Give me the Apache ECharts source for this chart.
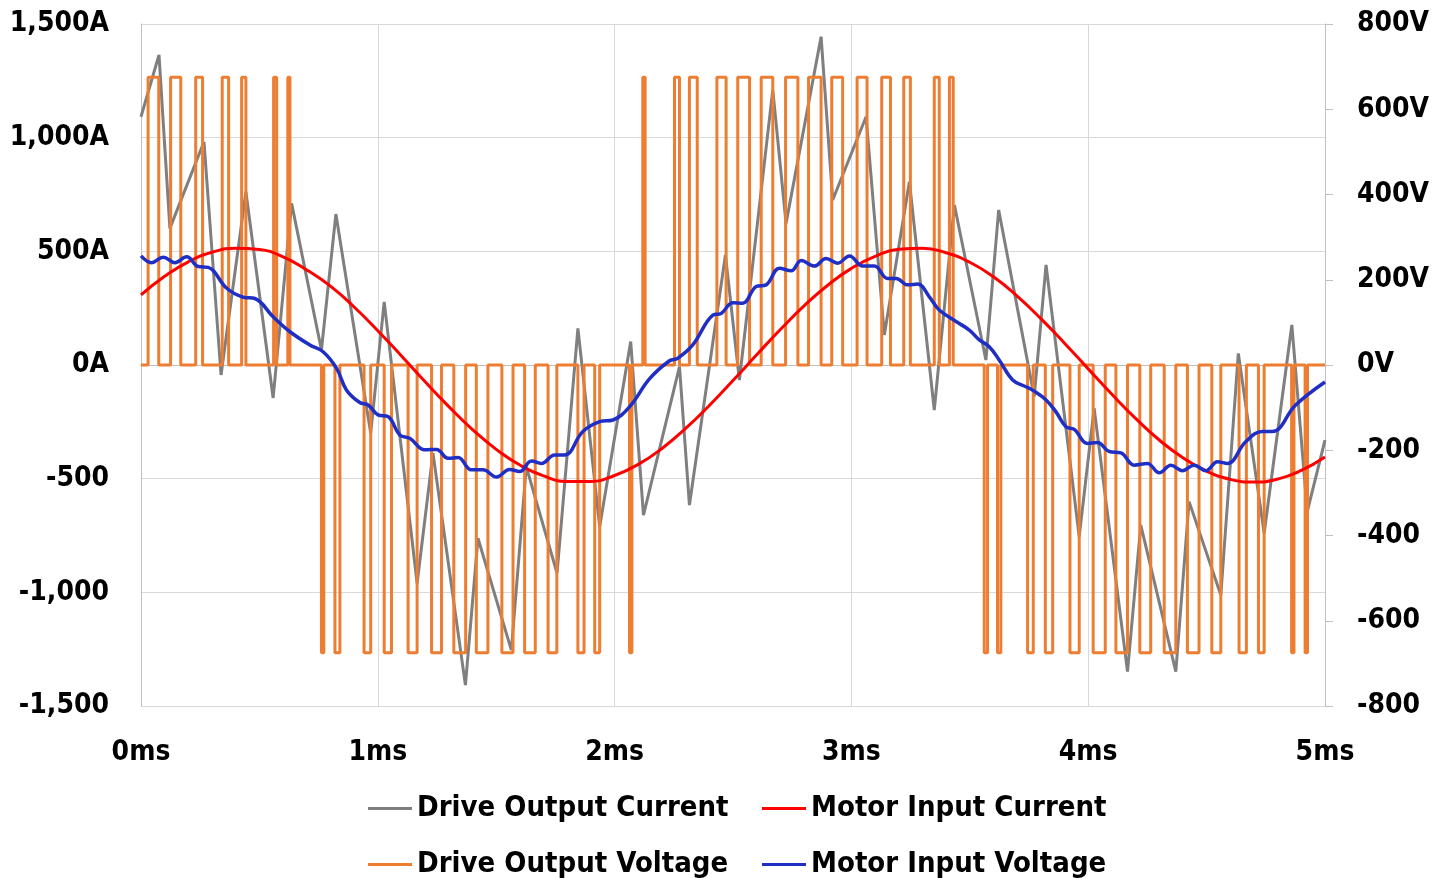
<!DOCTYPE html>
<html><head><meta charset="utf-8">
<script src="https://cdn.jsdelivr.net/npm/echarts@6/dist/echarts.min.js"></script>
<style>html,body{margin:0;padding:0;background:#fff}#c{width:1448px;height:878px}</style>
</head><body><div id="c"></div>
<script>
// ---- Data (time in ms) ----
const seriesNames = ['Drive Output Current', 'Motor Input Current', 'Drive Output Voltage', 'Motor Input Voltage'];

// Drive Output Current (A) - zigzag vertices
const driveCurrentTime = [0, 0.076, 0.122, 0.266, 0.338, 0.443, 0.558, 0.636, 0.762, 0.823, 0.970, 1.027, 1.166, 1.233, 1.370, 1.423, 1.564, 1.627, 1.757, 1.845, 1.937, 2.068, 2.122, 2.274, 2.316, 2.468, 2.527, 2.668, 2.724, 2.872, 2.921, 3.062, 3.139, 3.245, 3.350, 3.435, 3.568, 3.622, 3.772, 3.822, 3.962, 4.025, 4.166, 4.222, 4.370, 4.426, 4.560, 4.634, 4.743, 4.860, 4.925, 5.0];
const driveCurrentAmps = [1092, 1364, 601, 982, -44, 762, -145, 711, 66, 664, -300, 278, -960, -388, -1408, -762, -1254, -447, -916, 161, -711, 103, -660, -7, -616, 484, -66, 1210, 623, 1444, 726, 1092, 132, 806, -198, 704, 22, 682, -139, 440, -755, -190, -1349, -704, -1349, -601, -1012, 51, -740, 176, -645, -330];

// Motor Input Current (A)
const motorCurrentTime = [0, 0.1, 0.2, 0.3, 0.4, 0.5, 0.6, 0.7, 0.8, 0.9, 1.0, 1.1, 1.2, 1.3, 1.4, 1.5, 1.6, 1.7, 1.8, 1.9, 2.0, 2.1, 2.2, 2.3, 2.4, 2.5, 2.6, 2.7, 2.8, 2.9, 3.0, 3.1, 3.2, 3.3, 3.4, 3.5, 3.6, 3.7, 3.8, 3.9, 4.0, 4.1, 4.2, 4.3, 4.4, 4.5, 4.6, 4.7, 4.8, 4.9, 5.0];
const motorCurrentAmps = [308, 390, 454, 496, 514, 508, 476, 418, 347, 255, 151, 40, -74, -183, -284, -371, -440, -488, -512, -512, -486, -437, -367, -279, -178, -68, 45, 156, 260, 351, 425, 478, 509, 514, 494, 452, 388, 303, 204, 96, -17, -129, -235, -330, -408, -467, -503, -515, -502, -464, -405];

// Drive Output Voltage (V) - PWM pulses [start ms, end ms]
const pwmLevel = 675;
const pwmPositivePulses = [
  [0.030, 0.075], [0.125, 0.168], [0.231, 0.260], [0.343, 0.370], [0.425, 0.443], [0.560, 0.573], [0.620, 0.629],
  [2.119, 2.129], [2.253, 2.274], [2.316, 2.349], [2.432, 2.471], [2.520, 2.570], [2.619, 2.668], [2.722, 2.774],
  [2.819, 2.872], [2.917, 2.963], [3.024, 3.066], [3.128, 3.165], [3.221, 3.249], [3.350, 3.371], [3.414, 3.430]
];
const pwmNegativePulses = [
  [0.762, 0.772], [0.819, 0.840], [0.942, 0.970], [1.027, 1.058], [1.128, 1.166], [1.227, 1.269], [1.321, 1.371],
  [1.416, 1.465], [1.524, 1.571], [1.620, 1.665], [1.719, 1.756], [1.845, 1.871], [1.916, 1.937], [2.063, 2.073],
  [3.561, 3.575], [3.617, 3.631], [3.744, 3.768], [3.819, 3.850], [3.923, 3.962], [4.021, 4.072], [4.117, 4.166],
  [4.218, 4.264], [4.321, 4.370], [4.419, 4.468], [4.522, 4.560], [4.637, 4.668], [4.719, 4.743], [4.859, 4.869], [4.916, 4.926]
];

// Motor Input Voltage (V)
const motorVoltageTime = [0, 0.045, 0.094, 0.143, 0.193, 0.242, 0.284, 0.362, 0.432, 0.481, 0.558, 0.629, 0.713, 0.769, 0.826, 0.868, 0.924, 0.959, 1.001, 1.043, 1.093, 1.135, 1.198, 1.248, 1.297, 1.339, 1.395, 1.444, 1.501, 1.557, 1.599, 1.649, 1.691, 1.747, 1.789, 1.866, 1.937, 1.993, 2.063, 2.148, 2.232, 2.267, 2.330, 2.415, 2.450, 2.499, 2.541, 2.598, 2.640, 2.696, 2.746, 2.788, 2.844, 2.893, 2.942, 2.992, 3.048, 3.097, 3.153, 3.189, 3.238, 3.280, 3.329, 3.371, 3.442, 3.498, 3.540, 3.582, 3.624, 3.681, 3.737, 3.765, 3.822, 3.864, 3.906, 3.941, 3.997, 4.039, 4.089, 4.138, 4.194, 4.250, 4.300, 4.349, 4.398, 4.447, 4.497, 4.546, 4.588, 4.665, 4.735, 4.778, 4.876, 5.0];
const motorVoltageVolts = [256, 240, 253, 240, 254, 231, 229, 180, 159, 156, 113, 78, 47, 31, -8, -59, -88, -94, -117, -121, -164, -172, -199, -198, -219, -217, -246, -246, -263, -245, -250, -225, -231, -211, -211, -156, -133, -129, -98, -32, 10, 16, 47, 117, 121, 146, 145, 184, 188, 227, 221, 245, 232, 250, 239, 256, 232, 232, 203, 203, 188, 190, 160, 129, 102, 82, 59, 43, 12, -35, -51, -59, -82, -110, -145, -151, -184, -182, -203, -206, -235, -231, -253, -235, -248, -235, -248, -227, -231, -180, -156, -156, -94, -40];

// ---- Build series data ----
function zip(a, b) { return a.map((v, i) => [v, b[i]]); }
function buildPwm() {
  const pulses = pwmPositivePulses.map(p => [p[0], p[1], pwmLevel])
    .concat(pwmNegativePulses.map(p => [p[0], p[1], -pwmLevel]))
    .sort((a, b) => a[0] - b[0]);
  const pts = [[0, 0]];
  pulses.forEach(p => { pts.push([p[0], 0], [p[0], p[2]], [p[1], p[2]], [p[1], 0]); });
  pts.push([5, 0]);
  return pts;
}

const FONT = '"DejaVu Sans Condensed", "DejaVu Sans", sans-serif';
const labelStyle = { color: '#000', fontWeight: 'bold', fontSize: 28, fontFamily: FONT };
const legendText = { color: '#000', fontWeight: 'bold', fontSize: 29, fontFamily: FONT, padding: 0 };
const colors = { gray: '#7f7f7f', red: '#ff0000', orange: '#ed7d31', blue: '#1f2fc6' };

function legendAt(name, left, top) {
  return {
    data: [name], left: left, top: top, icon: 'rect', itemWidth: 44, itemHeight: 3,
    selectedMode: false, padding: 0, textStyle: legendText
  };
}

const chart = echarts.init(document.getElementById('c'), null, { renderer: 'canvas' });
chart.setOption({
  animation: false,
  backgroundColor: '#fff',
  grid: { left: 141, right: 123, top: 24, bottom: 172, containLabel: false },
  legend: [
    legendAt(seriesNames[0], 368, 794),
    legendAt(seriesNames[1], 762, 794),
    legendAt(seriesNames[2], 368, 850),
    legendAt(seriesNames[3], 762, 850)
  ],
  xAxis: {
    type: 'value', min: 0, max: 5, interval: 1,
    axisLine: { show: true, lineStyle: { color: '#bfbfbf', width: 1 } },
    axisTick: { show: false },
    splitLine: { show: true, lineStyle: { color: '#d9d9d9', width: 1 } },
    axisLabel: Object.assign({ margin: 33, formatter: v => v + 'ms' }, labelStyle)
  },
  yAxis: [
    {
      type: 'value', min: -1500, max: 1500, interval: 500, position: 'left',
      axisLine: { show: true, lineStyle: { color: '#bfbfbf', width: 1 } },
      axisTick: { show: false },
      splitLine: { show: true, lineStyle: { color: '#d9d9d9', width: 1 } },
      axisLabel: Object.assign({ margin: 32, formatter: v => v >= 0 ? v.toLocaleString('en-US') + 'A' : v.toLocaleString('en-US') }, labelStyle)
    },
    {
      type: 'value', min: -800, max: 800, interval: 200, position: 'right',
      axisLine: { show: true, lineStyle: { color: '#bfbfbf', width: 1 } },
      axisTick: { show: true, length: 8, lineStyle: { color: '#bfbfbf' } },
      splitLine: { show: false },
      axisLabel: Object.assign({ margin: 32, formatter: v => v >= 0 ? v + 'V' : String(v) }, labelStyle)
    }
  ],
  series: [
    { name: seriesNames[0], type: 'line', yAxisIndex: 0, data: zip(driveCurrentTime, driveCurrentAmps),
      showSymbol: false, symbol: 'none', z: 2, color: colors.gray, lineStyle: { color: colors.gray, width: 3 } },
    { name: seriesNames[2], type: 'line', yAxisIndex: 1, data: buildPwm(),
      showSymbol: false, symbol: 'none', z: 3, color: colors.orange, lineStyle: { color: colors.orange, width: 3 } },
    { name: seriesNames[1], type: 'line', yAxisIndex: 0, data: zip(motorCurrentTime, motorCurrentAmps), smooth: true,
      showSymbol: false, symbol: 'none', z: 4, color: colors.red, lineStyle: { color: colors.red, width: 3 } },
    { name: seriesNames[3], type: 'line', yAxisIndex: 1, data: zip(motorVoltageTime, motorVoltageVolts), smooth: 0.4,
      showSymbol: false, symbol: 'none', z: 5, color: colors.blue, lineStyle: { color: colors.blue, width: 3.5 } }
  ]
});
</script>
</body></html>
